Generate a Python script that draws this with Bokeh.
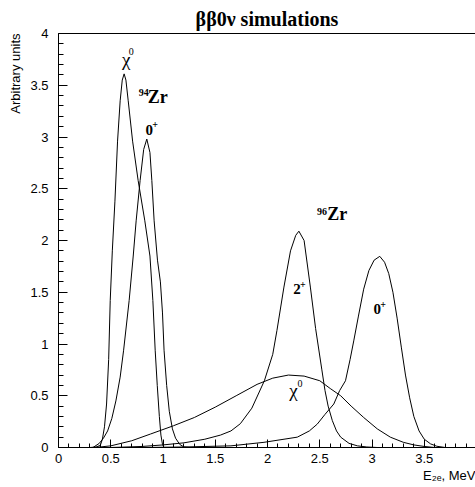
import math
from bokeh.plotting import figure
from bokeh.models import (Label, SingleIntervalTicker, Range1d, CustomJSTickFormatter, Title, LinearAxis,
                          FixedTicker)
from bokeh.embed import file_html
from bokeh.resources import INLINE

# ---- data ----
# 94Zr, chi0 mode
zr94_chi_x = [0.30, 0.36, 0.40, 0.42, 0.44, 0.46, 0.48, 0.495, 0.515, 0.54, 0.565, 0.59, 0.61, 0.628,
              0.645, 0.667, 0.709, 0.762, 0.826, 0.875, 0.903, 0.925, 0.945, 0.965, 0.98, 0.995, 1.01]
zr94_chi_y = [0.0, 0.005, 0.02, 0.08, 0.2, 0.42, 0.85, 1.42, 1.9, 2.38, 2.96, 3.35, 3.55, 3.61,
              3.55, 3.35, 2.96, 2.58, 2.19, 1.85, 1.42, 0.94, 0.6, 0.3, 0.12, 0.03, 0.0]
# 94Zr, 0+ transition
zr94_0p_x = [0.33, 0.39, 0.43, 0.47, 0.51, 0.549, 0.59, 0.623, 0.676, 0.715, 0.743, 0.781, 0.815, 0.845,
             0.875, 0.893, 0.915, 0.947, 0.975, 0.995, 1.01, 1.035, 1.06, 1.09, 1.12, 1.16, 1.2, 1.25]
zr94_0p_y = [0.0, 0.04, 0.09, 0.16, 0.28, 0.45, 0.68, 0.94, 1.42, 1.85, 2.19, 2.58, 2.88, 2.98,
             2.85, 2.58, 2.19, 1.81, 1.6, 1.3, 0.94, 0.6, 0.35, 0.18, 0.09, 0.03, 0.005, 0.0]
# 96Zr, chi0 mode (broad)
zr96_chi_x = [0.35, 0.5, 0.7, 0.88, 1.1, 1.3, 1.5, 1.7, 1.9, 2.05, 2.2, 2.35, 2.5, 2.6, 2.7, 2.8,
              2.92, 3.05, 3.175, 3.3, 3.4, 3.5, 3.6]
zr96_chi_y = [0.0, 0.016, 0.065, 0.13, 0.21, 0.29, 0.39, 0.5, 0.61, 0.67, 0.70, 0.69, 0.645, 0.57, 0.5, 0.40,
              0.29, 0.18, 0.10, 0.05, 0.025, 0.01, 0.0]
# 96Zr, 2+ transition
zr96_2p_x = [0.5, 0.8, 1.0, 1.2, 1.4, 1.55, 1.65, 1.74, 1.85, 1.97, 2.05, 2.09, 2.157, 2.22, 2.27, 2.3,
             2.35, 2.41, 2.46, 2.52, 2.55, 2.58, 2.62, 2.66, 2.70, 2.78, 2.86, 2.95, 3.05]
zr96_2p_y = [0.0, 0.01, 0.025, 0.045, 0.08, 0.12, 0.16, 0.23, 0.38, 0.645, 0.9, 1.13, 1.55, 1.9, 2.05, 2.09,
             2.0, 1.55, 1.15, 0.75, 0.55, 0.4, 0.26, 0.16, 0.10, 0.04, 0.016, 0.005, 0.0]
# 96Zr, 0+ transition
zr96_0p_x = [0.8, 1.2, 1.65, 1.966, 2.285, 2.4, 2.476, 2.55, 2.634, 2.69, 2.746, 2.79, 2.825, 2.87, 2.92,
             2.97, 3.02, 3.074, 3.12, 3.16, 3.2, 3.24, 3.28, 3.32, 3.36, 3.40, 3.45, 3.50, 3.56, 3.62, 3.7]
zr96_0p_y = [0.0, 0.005, 0.016, 0.05, 0.10, 0.16, 0.226, 0.32, 0.42, 0.55, 0.645, 0.85, 1.03, 1.27, 1.53,
             1.71, 1.81, 1.847, 1.79, 1.68, 1.50, 1.25, 0.97, 0.70, 0.48, 0.30, 0.16, 0.08, 0.035, 0.012, 0.0]

title_text = "\u03b2\u03b20\u03bd simulations"
y_label = "Arbitrary units"
x_label = "E\u2082\u2091, MeV"

p = figure(width=475, height=487, x_range=Range1d(0, 3.99), y_range=Range1d(0, 4),
           output_backend="svg", toolbar_location=None,
           min_border_left=57, min_border_right=0, min_border_top=33, min_border_bottom=40)
p.background_fill_color = "white"
p.border_fill_color = "white"
p.outline_line_color = None
p.xgrid.visible = False
p.ygrid.visible = False

p.title.text = title_text
p.title.align = "center"
p.title.text_font = "Liberation Serif"
p.title.text_font_style = "bold"
p.title.text_font_size = "20px"
p.title.text_color = "black"
p.title.standoff = 7

xb = p.xaxis[0]
yl = p.yaxis[0]

fmt = CustomJSTickFormatter(code="return tick.toString();")
for ax, maj, mnr, so in ((xb, 8, 4, 6), (yl, 9, 5, 10)):
    ax.ticker = SingleIntervalTicker(interval=0.5, num_minor_ticks=5)
    ax.formatter = fmt
    ax.major_tick_in = maj
    ax.major_tick_out = 0
    ax.minor_tick_in = mnr
    ax.minor_tick_out = 0
    ax.axis_line_color = "black"
    ax.major_tick_line_color = "black"
    ax.minor_tick_line_color = "black"
    ax.major_label_text_font = "Liberation Sans"
    ax.major_label_text_font_size = "13px"
    ax.major_label_text_color = "black"
    ax.major_label_standoff = so

# top frame line (no ticks, no labels)
top = LinearAxis(ticker=FixedTicker(ticks=[]), major_tick_in=0, major_tick_out=0,
                 minor_tick_in=0, minor_tick_out=0, major_label_standoff=0,
                 major_label_text_color=None, axis_line_color="black")
p.add_layout(top, "above")

p.add_layout(Title(text=y_label, align="right", text_font="Liberation Sans", text_font_style="normal",
                   text_font_size="13px", text_color="black"), "left")
p.add_layout(Title(text=x_label, align="right", text_font="Liberation Sans", text_font_style="normal",
                   text_font_size="13px", text_color="black", standoff=0), "below")

for xs, ys in ((zr94_chi_x, zr94_chi_y), (zr94_0p_x, zr94_0p_y), (zr96_chi_x, zr96_chi_y),
               (zr96_2p_x, zr96_2p_y), (zr96_0p_x, zr96_0p_y)):
    p.line(xs, ys, line_color="black", line_width=1)

def lab(x, y, t, size, bold=False, font="Liberation Serif"):
    p.add_layout(Label(x=x, y=y, text=t, text_font=font, text_font_size=size,
                       text_font_style="bold" if bold else "normal", text_color="black",
                       text_align="center", text_baseline="middle"))

# curve annotations
lab(0.649, 3.75, "\u03c7", "19px")
lab(0.695, 3.83, "0", "10px")
lab(0.815, 3.43, "94", "10px", bold=True)
lab(0.950, 3.386, "Zr", "18px", bold=True)
lab(0.869, 3.063, "0", "15px", bold=True)
lab(0.925, 3.12, "+", "10px", bold=True)
lab(2.522, 2.280, "96", "10px", bold=True)
lab(2.668, 2.256, "Zr", "18px", bold=True)
lab(2.281, 1.527, "2", "15px", bold=True)
lab(2.338, 1.575, "+", "10px", bold=True)
lab(3.050, 1.338, "0", "15px", bold=True)
lab(3.106, 1.382, "+", "10px", bold=True)
lab(2.248, 0.55, "\u03c7", "19px")
lab(2.31, 0.615, "0", "10px")

open("out.html", "w").write(file_html(p, INLINE))
